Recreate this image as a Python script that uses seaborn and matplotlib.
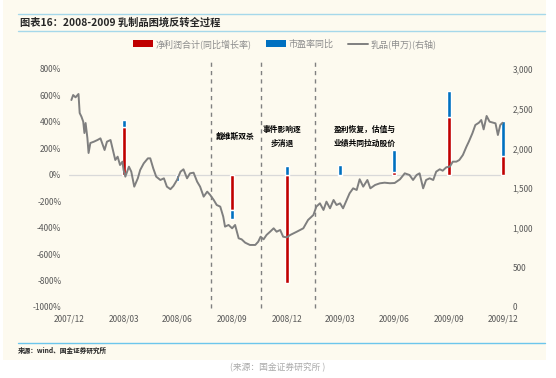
import numpy as np
import pandas as pd
import matplotlib
matplotlib.use("Agg")
import matplotlib.pyplot as plt
from matplotlib.patches import Patch, Rectangle
from matplotlib.lines import Line2D
import seaborn as sns

# quarterly bars (%, yoy)
quarters = ["2008-03-31", "2008-06-30", "2008-09-30", "2008-12-31",
            "2009-03-31", "2009-06-30", "2009-09-30", "2009-12-31"]
profit_yoy = [365, 0, -265, -815, -12, 20, 435, 145]
pe_yoy = [50, -50, -70, 70, 75, 170, 200, 265]

tick_dates = ["2007-12-31", "2008-03-31", "2008-06-30", "2008-09-30", "2008-12-31",
              "2009-03-31", "2009-06-30", "2009-09-30", "2009-12-31"]
tick_labels = ["2007/12", "2008/03", "2008/06", "2008/09", "2008/12",
               "2009/03", "2009/06", "2009/09", "2009/12"]

# dairy index (SW), right axis: days since 2007-12-31 and index level
line_days = [3, 6, 10, 15, 17, 20, 23, 25, 27, 30, 32, 35, 41, 47, 52, 55, 59, 63, 69, 73,
             77, 81, 85, 89, 91, 94, 100, 104, 109, 115, 119, 125, 132, 136, 141, 146, 153,
             159, 164, 170, 175, 181, 187, 192, 198, 203, 209, 215, 220, 226, 232, 237, 243,
             248, 254, 259, 262, 268, 274, 279, 285, 290, 296, 304, 313, 318, 322, 327, 332,
             338, 344, 349, 355, 360, 366, 372, 383, 394, 402, 411, 416, 422, 428, 433, 439,
             445, 450, 456, 461, 467, 472, 478, 484, 489, 495, 502, 507, 515, 523, 531, 540,
             548, 557, 565, 573, 579, 585, 590, 596, 601, 607, 613, 618, 624, 629, 635, 641,
             646, 652, 657, 663, 669, 673, 679, 684, 690, 694, 698, 703, 708, 714, 718, 722,
             726, 730]
line_index = [2609, 2672, 2643, 2685, 2445, 2399, 2336, 2193, 2319, 2130, 1941, 2067, 2084,
              2105, 2126, 2063, 1979, 2084, 2105, 1979, 1853, 1895, 1790, 1832, 1727, 1643,
              1769, 1706, 1517, 1622, 1727, 1811, 1874, 1874, 1748, 1643, 1601, 1622, 1517,
              1485, 1525, 1601, 1706, 1736, 1622, 1685, 1693, 1580, 1517, 1391, 1454, 1412,
              1349, 1286, 1265, 1139, 1013, 1034, 992, 1034, 866, 853, 811, 782, 782, 823,
              886, 853, 908, 949, 992, 949, 971, 886, 878, 908, 949, 992, 1097, 1160, 1265,
              1307, 1223, 1328, 1244, 1349, 1286, 1307, 1244, 1349, 1433, 1496, 1475, 1610,
              1517, 1601, 1496, 1538, 1559, 1567, 1560, 1563, 1610, 1685, 1664, 1601, 1664,
              1685, 1496, 1601, 1622, 1601, 1706, 1736, 1718, 1761, 1769, 1832, 1832, 1853,
              1916, 2021, 2084, 2189, 2294, 2323, 2357, 2239, 2408, 2336, 2323, 2315, 2168,
              2294, 2323]

event_dates = ["2008-08-25", "2008-11-17", "2009-02-16"]
notes = ["戴维斯双杀", "事件影响逐\n步消退", "盈利恢复，估值与\n业绩共同拉动股价"]
note_dates = ["2008-10-05", "2008-12-24", "2009-05-12"]

RED = "#C00000"
BLUE = "#0070C0"
GRAY = "#7F7F7F"
CREAM = "#FDFAEF"

sns.set_style("white")
plt.rcParams["font.family"] = ["Noto Sans CJK SC", "DejaVu Sans"]
plt.rcParams["axes.unicode_minus"] = False

base = pd.Timestamp("2007-12-31")
qd = pd.to_datetime(quarters)
profit = np.array(profit_yoy, dtype=float)
pe = np.array(pe_yoy, dtype=float)
pe_bottom = np.where(np.sign(pe) == np.sign(profit), profit, 0)
line_dates = base + pd.to_timedelta(line_days, unit="D")

fig = plt.figure(figsize=(5.56, 3.78), dpi=100, facecolor="white")
fig.patches.append(Rectangle((3 / 556, 1 - 360 / 378), 543 / 556, 360 / 378,
                             transform=fig.transFigure, facecolor=CREAM,
                             edgecolor="none", zorder=-10))

ax = fig.add_axes([69 / 556, 1 - 307 / 378, 436 / 556, 238 / 378])
ax.set_facecolor("none")
ax2 = ax.twinx()

ax.axhline(0, color="#D9D9D9", lw=0.9, zorder=1)
ax.bar(qd, profit, width=6.5, color=RED, zorder=2)
ax.bar(qd, pe, bottom=pe_bottom, width=6.5, color=BLUE, zorder=2)

sns.lineplot(x=line_dates, y=line_index, ax=ax2, color=GRAY, lw=1.4, zorder=3)

for d in event_dates:
    ax.axvline(pd.Timestamp(d), ymin=-0.005, ymax=1.046, color="#808080",
               lw=1.0, ls=(0, (3, 3)), clip_on=False, zorder=1)

for txt, d in zip(notes, note_dates):
    ax.text(pd.Timestamp(d), 290, txt, ha="center", va="center", fontsize=5.6,
            fontweight="bold", color="black", linespacing=1.6)

ax.set_xlim(base - pd.Timedelta(days=1), base + pd.Timedelta(days=734))
ax.set_ylim(-1000, 800)
ax2.set_ylim(0, 3000)
ax.set_yticks(range(-1000, 801, 200))
ax.set_yticklabels([f"{v}%" for v in range(-1000, 801, 200)])
ax2.set_yticks(range(0, 3001, 500))
ax2.set_yticklabels([f"{v:,}" for v in range(0, 3001, 500)])
ax.set_xticks(pd.to_datetime(tick_dates))
ax.set_xticklabels(tick_labels)
ax2.set_ylabel("")
ax2.set_xlabel("")

for a in (ax, ax2):
    for s in a.spines.values():
        s.set_visible(False)
    a.tick_params(length=0, labelsize=6, colors="#595959", pad=5.5)
    a.grid(False)

# title block
fig.add_artist(Line2D([18 / 556, 545 / 556], [1 - 14 / 378] * 2, color="#A6D8EA", lw=1.0))
fig.add_artist(Line2D([18 / 556, 545 / 556], [1 - 31 / 378] * 2, color="#A6D8EA", lw=1.0))
fig.text(20 / 556, 1 - 22.5 / 378, "图表16：2008-2009 乳制品困境反转全过程",
         fontsize=7.4, fontweight="bold", style="italic", va="center", ha="left")

handles = [Patch(facecolor=RED, edgecolor="none"),
           Patch(facecolor=BLUE, edgecolor="none"),
           Line2D([], [], color=GRAY, lw=1.4)]
labels = ["净利润合计(同比增长率)", "市盈率同比", "乳品(申万)(右轴)"]
leg = fig.legend(handles, labels, loc="center", bbox_to_anchor=(285 / 556, 1 - 44 / 378),
                 ncol=3, frameon=False, fontsize=6.5, handlelength=2.2, handleheight=0.8,
                 handletextpad=0.3, columnspacing=1.6)
for t in leg.get_texts():
    t.set_color("#8C8C8C")

# source block
fig.add_artist(Line2D([18 / 556, 545 / 556], [1 - 343 / 378] * 2, color="#6CC6EC", lw=1.0))
fig.text(18 / 556, 1 - 350.5 / 378, "来源：wind、国金证券研究所", fontsize=4.8,
         fontweight="bold", va="center", ha="left")
fig.text(278 / 556, 1 - 367 / 378, "(来源：国金证券研究所 )", fontsize=6.3,
         color="#AAAAAA", va="center", ha="center")

fig.savefig("out.png", dpi=100, facecolor="white")
plt.close(fig)
